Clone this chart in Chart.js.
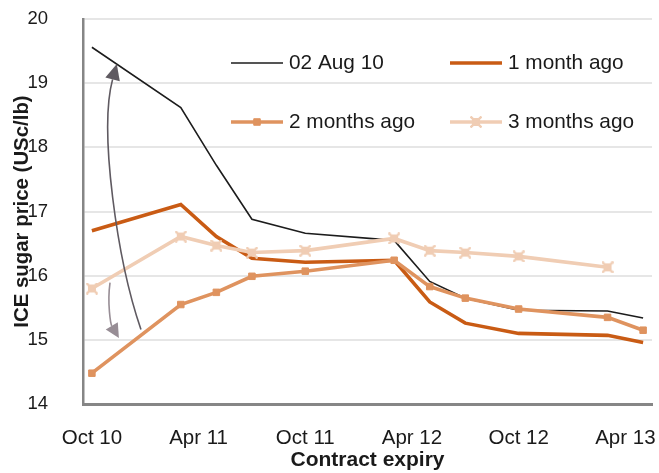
<!DOCTYPE html>
<html>
<head>
<meta charset="utf-8">
<script src="https://cdn.jsdelivr.net/npm/chart.js@4.4.1/dist/chart.umd.min.js"></script>
<style>
  html, body { margin: 0; padding: 0; background: #fff; }
  #wrap { width: 659px; height: 473px; position: relative; }
</style>
</head>
<body>
<div id="wrap"><canvas id="c" width="659" height="473"></canvas></div>
<script>
// Contract months along the forward curve
const contracts = ["Oct 10", "Mar 11", "May 11", "Jul 11", "Oct 11", "Mar 12", "May 12", "Jul 12", "Oct 12", "Mar 13", "May 13"];
const tickLabels = ["Oct 10", "Apr 11", "Oct 11", "Apr 12", "Oct 12", "Apr 13"];
const seriesNames = ["02 Aug 10", "1 month ago", "2 months ago", "3 months ago"];

// ICE sugar No.11 settlement prices, USc/lb
const curveAug02 = [19.56, 18.62, 17.72, 16.88, 16.66, 16.55, 15.91, 15.65, 15.46, 15.45, 15.34];
const curve1m    = [16.70, 17.11, 16.61, 16.27, 16.21, 16.24, 15.59, 15.26, 15.10, 15.07, 14.96];
const curve2m    = [14.48, 15.55, 15.74, 15.99, 16.07, 16.24, 15.83, 15.65, 15.48, 15.35, 15.15];
const curve3m    = [15.80, 16.61, 16.47, 16.36, 16.39, 16.58, 16.39, 16.36, 16.30, 16.13, null];

const MONTH_NUM = {Jan:1, Feb:2, Mar:3, Apr:4, May:5, Jun:6, Jul:7, Aug:8, Sep:9, Oct:10, Nov:11, Dec:12};
// months elapsed since Oct 2010
function monthIndex(label) {
  const [m, yy] = label.split(" ");
  return (Number(yy) - 10) * 12 + MONTH_NUM[m] - 10;
}
const toPoints = vals => contracts.map((c, i) => ({x: monthIndex(c), y: vals[i]})).filter(p => p.y !== null);

const FONT = "'Liberation Sans', Arial, Helvetica, sans-serif";
const TEXT = "#1a1a1a";

// star-like marker: filled square with diagonal spikes
function starMarker(color) {
  const c = document.createElement("canvas");
  c.width = 12; c.height = 12;
  const g = c.getContext("2d");
  g.fillStyle = color;
  g.fillRect(2, 2, 8, 8);
  g.strokeStyle = color;
  g.lineWidth = 2.4;
  g.beginPath();
  g.moveTo(0.5, 0.5); g.lineTo(11.5, 11.5);
  g.moveTo(11.5, 0.5); g.lineTo(0.5, 11.5);
  g.stroke();
  return c;
}

const styles = [
  {color: "#1c1c1c", width: 1.6, point: false},
  {color: "#c95b14", width: 3.6, point: false},
  {color: "#df935f", width: 3.6, point: "rect"},
  {color: "#f0cdb4", width: 3.6, point: "star"}
];
const series = [curveAug02, curve1m, curve2m, curve3m];
const starImg = starMarker(styles[3].color);

const datasets = series.map((vals, i) => {
  const s = styles[i];
  return {
    label: seriesNames[i],
    data: toPoints(vals),
    borderColor: s.color,
    backgroundColor: s.color,
    borderWidth: s.width,
    tension: 0,
    pointStyle: s.point === "star" ? starImg : (s.point || "circle"),
    pointRadius: s.point ? 4.6 : 0,
    pointBorderWidth: 1,
    pointHoverRadius: 0,
    order: 4 - i
  };
});

// Curved grey arrows, in (month, price) coordinates
const arrows = [
  {pts: [[2.76, 15.16], [1.41, 16.25], [0.39, 18.27], [1.40, 19.30]], color: "#5f5a61", width: 1.6, head: 16, half: 7.5},
  {pts: [[1.02, 15.89], [0.85, 15.55], [1.07, 15.24], [1.52, 15.03]], color: "#978d95", width: 1.6, head: 14, half: 7}
];

// Legend layout: two columns, two rows inside the plot
const legendLayout = {rows: [63, 122], cols: [231, 450], lineLen: 52, gap: 6};

const overlay = {
  id: "overlay",
  afterDatasetsDraw(chart) {
    const ctx = chart.ctx;
    const xs = chart.scales.x, ys = chart.scales.y;
    // arrows
    arrows.forEach(a => {
      const p = a.pts.map(([mx, v]) => [xs.getPixelForValue(mx), ys.getPixelForValue(v)]);
      const tip = p[3];
      const dx = p[3][0] - p[2][0], dy = p[3][1] - p[2][1];
      const len = Math.hypot(dx, dy);
      const ux = dx / len, uy = dy / len;
      const base = [tip[0] - ux * a.head, tip[1] - uy * a.head];
      ctx.save();
      ctx.strokeStyle = a.color;
      ctx.fillStyle = a.color;
      ctx.lineWidth = a.width;
      ctx.beginPath();
      ctx.moveTo(p[0][0], p[0][1]);
      ctx.bezierCurveTo(p[1][0], p[1][1], p[2][0], p[2][1], base[0], base[1]);
      ctx.stroke();
      ctx.beginPath();
      ctx.moveTo(tip[0], tip[1]);
      ctx.lineTo(base[0] - uy * a.half, base[1] + ux * a.half);
      ctx.lineTo(base[0] + uy * a.half, base[1] - ux * a.half);
      ctx.closePath();
      ctx.fill();
      ctx.restore();
    });
    // legend
    ctx.save();
    ctx.font = "20.8px " + FONT;
    ctx.textBaseline = "middle";
    ctx.fillStyle = TEXT;
    seriesNames.forEach((name, i) => {
      const s = styles[i];
      const y = legendLayout.rows[Math.floor(i / 2)];
      const x0 = legendLayout.cols[i % 2];
      const x1 = x0 + legendLayout.lineLen;
      ctx.strokeStyle = s.color;
      ctx.lineWidth = s.width;
      ctx.beginPath();
      ctx.moveTo(x0, y);
      ctx.lineTo(x1, y);
      ctx.stroke();
      if (s.point) {
        ctx.fillStyle = s.color;
        ctx.lineWidth = 1;
        Chart.helpers.drawPoint(ctx, {
          pointStyle: s.point === "star" ? starImg : s.point,
          radius: 4.6,
          borderWidth: 1,
          rotation: 0
        }, (x0 + x1) / 2, y);
        ctx.fillStyle = TEXT;
      }
      ctx.fillText(name, x1 + legendLayout.gap, y);
    });
    ctx.restore();
  }
};

// keep the plot frame where the layout padding puts it
const noLabelPadding = s => { s.paddingTop = 0; s.paddingBottom = 0; s.paddingLeft = 0; s.paddingRight = 0; };

new Chart(document.getElementById("c"), {
  type: "line",
  data: {datasets},
  options: {
    responsive: false,
    animation: false,
    devicePixelRatio: 1,
    layout: {padding: {top: 19, right: 7, left: 0, bottom: 0}},
    plugins: {legend: {display: false}, tooltip: {enabled: false}},
    scales: {
      x: {
        type: "linear",
        min: -0.5,
        max: 31.5,
        afterBuildTicks: s => { s.ticks = tickLabels.map(l => ({value: monthIndex(l)})); },
        afterFit: s => { s.height = 69; noLabelPadding(s); },
        ticks: {
          callback: v => tickLabels.find(l => monthIndex(l) === v) || "",
          font: {family: FONT, size: 20.5},
          color: TEXT,
          padding: 22,
          maxRotation: 0,
          autoSkip: false
        },
        grid: {display: true, drawOnChartArea: false, drawTicks: false},
        border: {display: true, color: "#868686", width: 3},
        title: {display: true, text: "Contract expiry", font: {family: FONT, size: 21, weight: "bold"}, color: TEXT, padding: {top: 0, bottom: 0}}
      },
      y: {
        min: 14,
        max: 20,
        afterFit: s => { s.width = 83; noLabelPadding(s); },
        ticks: {stepSize: 1, font: {family: FONT, size: 18.5}, color: TEXT, padding: 35},
        grid: {color: "#e6e6e6", lineWidth: 2, drawTicks: false},
        border: {display: true, color: "#868686", width: 2.5},
        title: {display: true, text: "ICE sugar price (USc/lb)", font: {family: FONT, size: 20.4, weight: "bold"}, color: TEXT, padding: {top: 10, bottom: 0}}
      }
    }
  },
  plugins: [overlay]
});
</script>
</body>
</html>
